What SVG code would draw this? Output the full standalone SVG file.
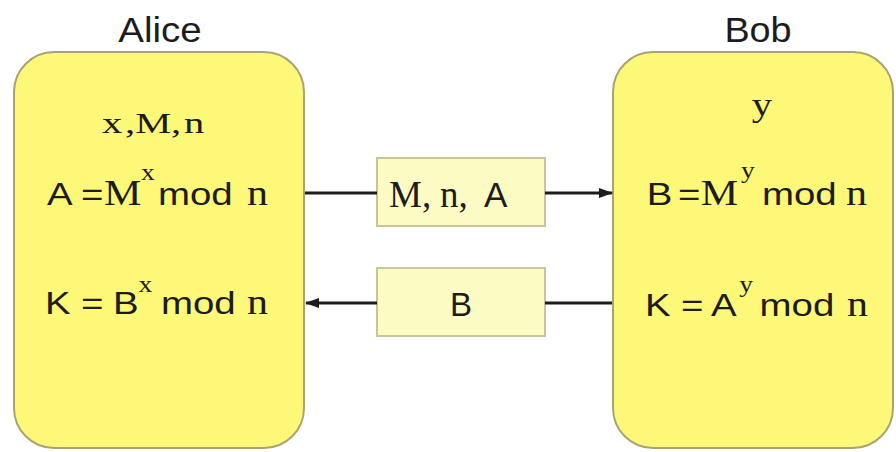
<svg xmlns="http://www.w3.org/2000/svg" width="896" height="452" viewBox="0 0 896 452">
<style>
.party{fill:#fdf878;stroke:#a8a372;stroke-width:2}
.msg{fill:#fdfbc4;stroke:#c9c59a;stroke-width:2}
.sans{font-family:"Liberation Sans",Arial,sans-serif;fill:#1c1c1c}
.serif{font-family:"Liberation Serif","Times New Roman",serif;fill:#1c1c1c}
.edge{stroke:#1c1c1c;stroke-width:3;fill:none}
</style>
<defs>
<marker id="arr" markerWidth="14" markerHeight="12" refX="13" refY="6" orient="auto" markerUnits="userSpaceOnUse">
<path d="M0,1 L14,6 L0,11 z" fill="#1c1c1c"/>
</marker>
</defs>
<rect width="896" height="452" fill="#ffffff"/>

<g id="alice">
<text class="sans" font-size="35" text-anchor="middle" transform="translate(160,42) scale(1.1,1)">Alice</text>
<rect class="party" x="14" y="52" width="290" height="396" rx="40" ry="40"/>
<text class="serif" font-size="30" transform="translate(0,133) scale(1.35,1)"><tspan x="75.6">x</tspan><tspan x="92.6">,M,</tspan><tspan x="136.3">n</tspan></text>
<text transform="translate(0,205) scale(1.2,1)"><tspan class="sans" font-size="32" x="39.2">A</tspan><tspan class="sans" font-size="32" x="67.5">=</tspan><tspan class="serif" font-size="35" x="86.7">M</tspan><tspan class="serif" font-size="23" x="117.5" y="-25">x</tspan><tspan class="sans" font-size="32" x="131.7" y="0">mod</tspan><tspan class="serif" font-size="35" x="205.8">n</tspan></text>
<text transform="translate(0,314) scale(1.2,1)"><tspan class="sans" font-size="32" x="37.5">K</tspan><tspan class="sans" font-size="32" x="67.5">=</tspan><tspan class="sans" font-size="32" x="94.2">B</tspan><tspan class="serif" font-size="23" x="115.5" y="-22">x</tspan><tspan class="sans" font-size="32" x="134.2" y="0">mod</tspan><tspan class="serif" font-size="35" x="205.8">n</tspan></text>
</g>

<g id="bob">
<text class="sans" font-size="35" text-anchor="middle" transform="translate(758,42) scale(1.08,1)">Bob</text>
<rect class="party" x="613" y="52" width="280" height="396" rx="40" ry="40"/>
<text class="serif" font-size="34" text-anchor="middle" transform="translate(762,116) scale(1.2,1)">y</text>
<text transform="translate(0,205) scale(1.2,1)"><tspan class="sans" font-size="32" x="539">B</tspan><tspan class="sans" font-size="32" x="565">=</tspan><tspan class="serif" font-size="35" x="584">M</tspan><tspan class="serif" font-size="23" x="617.5" y="-27">y</tspan><tspan class="sans" font-size="32" x="635" y="0">mod</tspan><tspan class="serif" font-size="35" x="705">n</tspan></text>
<text transform="translate(0,316) scale(1.2,1)"><tspan class="sans" font-size="32" x="537.5">K</tspan><tspan class="sans" font-size="32" x="567.5">=</tspan><tspan class="sans" font-size="32" x="592.5">A</tspan><tspan class="serif" font-size="23" x="616" y="-24">y</tspan><tspan class="sans" font-size="32" x="633" y="0">mod</tspan><tspan class="serif" font-size="35" x="705.8">n</tspan></text>
</g>

<g id="msg-mna">
<rect class="msg" x="377" y="158" width="168" height="68"/>
<text y="207"><tspan class="serif" font-size="37" x="389">M,</tspan><tspan class="serif" font-size="37" x="440">n,</tspan><tspan class="sans" font-size="35" x="484">A</tspan></text>
</g>

<g id="msg-b">
<rect class="msg" x="377" y="268" width="168" height="68"/>
<text class="sans" font-size="33" x="461" y="316" text-anchor="middle">B</text>
</g>

<g id="connectors">
<line class="edge" x1="305" y1="193" x2="377" y2="193"/>
<line class="edge" x1="545" y1="193" x2="612" y2="193" marker-end="url(#arr)"/>
<line class="edge" x1="612" y1="303" x2="545" y2="303"/>
<line class="edge" x1="377" y1="303" x2="306" y2="303" marker-end="url(#arr)"/>
</g>
</svg>
